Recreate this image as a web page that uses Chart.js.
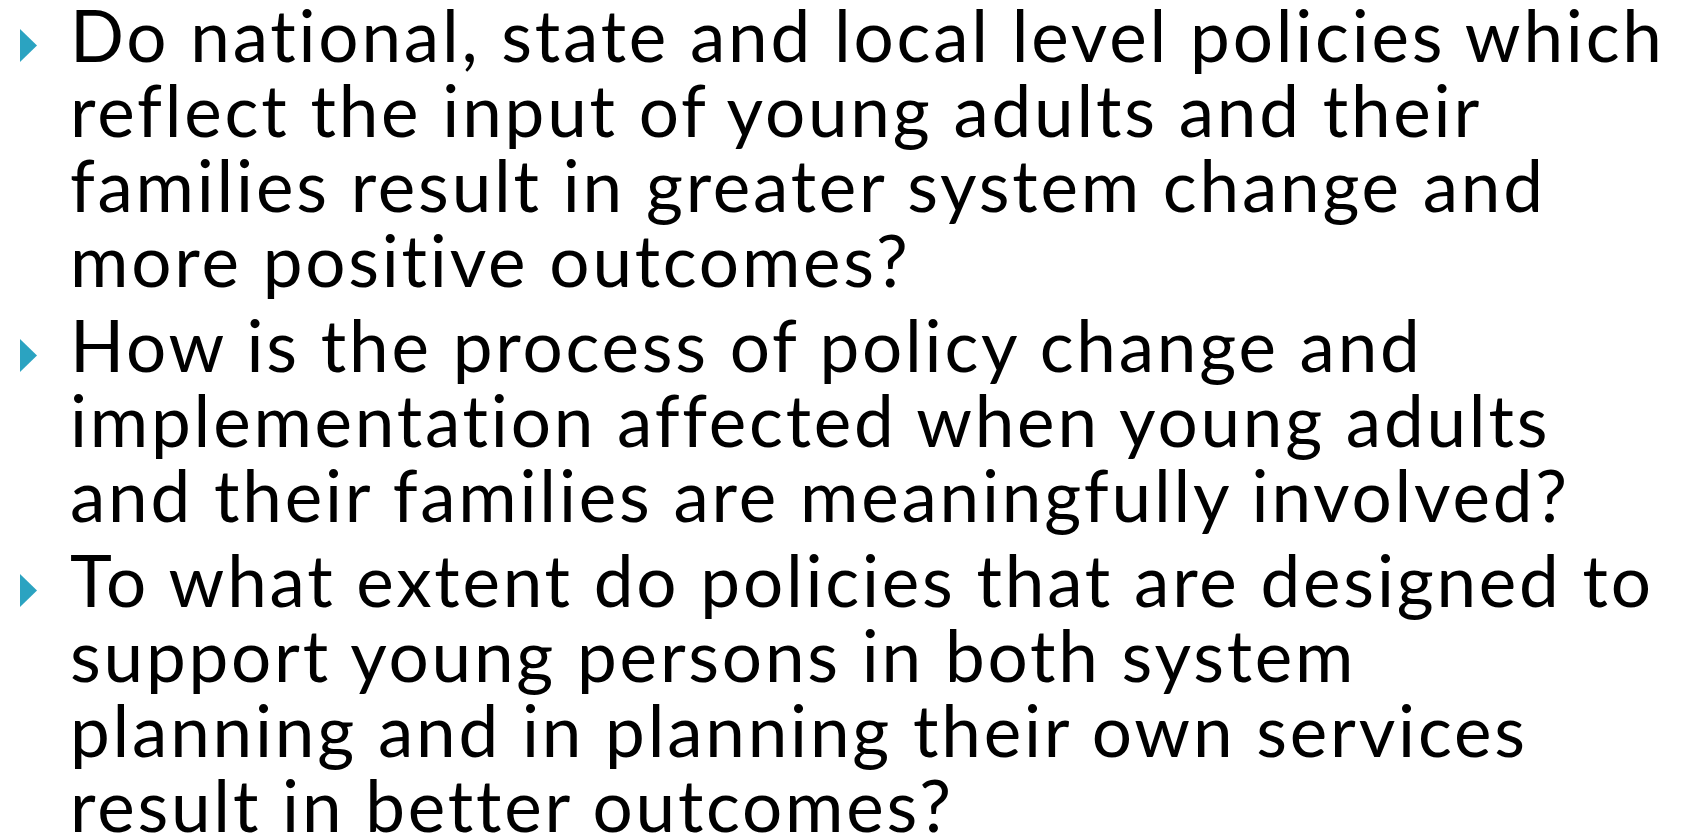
<!DOCTYPE html>
<html>
<head>
<meta charset="utf-8">
<script src="https://cdn.jsdelivr.net/npm/chart.js@4"></script>
<style>
    html, body { margin: 0; padding: 0; background: #fff; width: 1681px; height: 837px; overflow: hidden; }
    #bullets { position: absolute; left: 0; top: 0; width: 1681px; height: 837px; pointer-events: none; }
    #text {
        position: absolute; left: 70px; top: -3px;
        font-family: Lato, "Liberation Sans", sans-serif;
        font-size: 71px; line-height: 75px; color: #000;
        white-space: nowrap;
    }
    .item { margin: 0 0 10px 0; }
    .line { display: block; }
    .mark { display: inline-block; width: 0; height: 0; vertical-align: baseline; }
</style>
</head>
<body>
<canvas id="bullets" width="1681" height="837"></canvas>
<div id="text"></div>
<script>
// each bullet item, already broken into its lines as on the slide
const item1 = [
    "Do national, state and local level policies which",
    "reflect the input of young adults and their",
    "families result in greater system change and",
    "more positive outcomes?"
];
const item2 = [
    "How is the process of policy change and",
    "implementation affected when young adults",
    "and their families are meaningfully involved?"
];
const item3 = [
    "To what extent do policies that are designed to",
    "support young persons in both system",
    "planning and in planning their own services",
    "result in better outcomes?"
];
const items = [item1, item2, item3];
const bulletColor = "#2ba3c1";

const box = document.getElementById("text");
items.forEach(lines => {
    const p = document.createElement("div");
    p.className = "item";
    lines.forEach((t, i) => {
        const s = document.createElement("span");
        s.className = "line";
        s.textContent = t;
        if (i === 0) {
            const m = document.createElement("span");
            m.className = "mark";
            s.appendChild(m);
        }
        p.appendChild(s);
    });
    box.appendChild(p);
});

// stretch letter spacing so the first line spans the same width as the slide
const first = box.querySelector(".line");
const r = document.createRange();
r.selectNodeContents(first.firstChild);
const w = r.getBoundingClientRect().width;
const ls = (1596 - w) / first.firstChild.length;
box.style.letterSpacing = ls + "px";

// put the first baseline where the slide has it
const marks = [...box.querySelectorAll(".mark")];
const shift = 62 - marks[0].getBoundingClientRect().bottom;
box.style.top = (-3 + shift) + "px";
const baselines = marks.map(m => m.getBoundingClientRect().bottom);

// teal arrow bullets, drawn at each point through the chart scales
const arrows = {
    id: "arrows",
    afterDatasetsDraw(chart) {
        const ctx = chart.ctx;
        const xs = chart.scales.x, ys = chart.scales.y;
        ctx.save();
        ctx.fillStyle = bulletColor;
        chart.data.datasets[0].data.forEach(d => {
            const px = xs.getPixelForValue(d.x);
            const py = ys.getPixelForValue(d.y);
            ctx.beginPath();
            ctx.moveTo(px - 8.5, py - 16.5);
            ctx.lineTo(px + 8.5, py);
            ctx.lineTo(px - 8.5, py + 16.5);
            ctx.closePath();
            ctx.fill();
        });
        ctx.restore();
    }
};

new Chart(document.getElementById("bullets"), {
    type: "scatter",
    data: {
        datasets: [{
            data: baselines.map(b => ({ x: 28.5, y: b - 16.5 })),
            pointRadius: 0
        }]
    },
    options: {
        responsive: false,
        animation: false,
        layout: { padding: 0 },
        plugins: { legend: { display: false }, tooltip: { enabled: false } },
        scales: {
            x: { display: false, min: 0, max: 1681 },
            y: { display: false, min: 0, max: 837, reverse: true }
        }
    },
    plugins: [arrows]
});
</script>
</body>
</html>
